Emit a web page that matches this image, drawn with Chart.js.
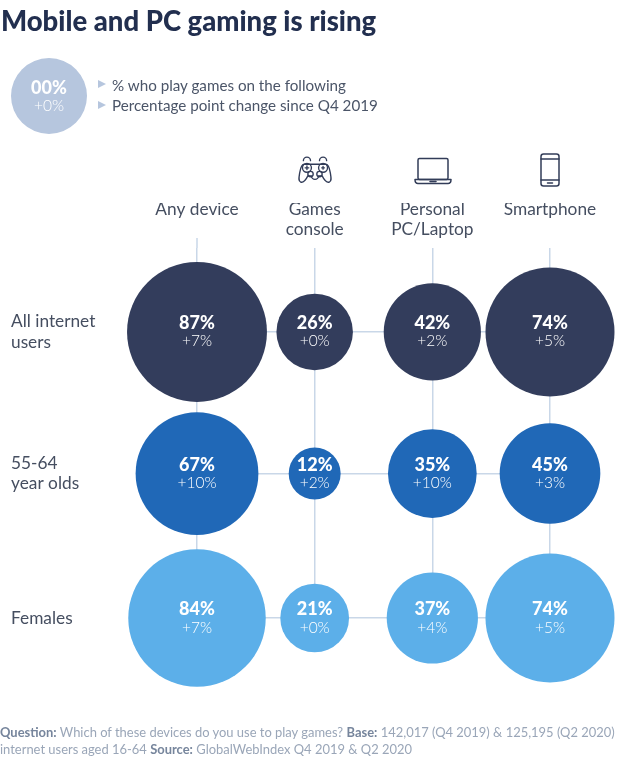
<!DOCTYPE html>
<html>
<head>
<meta charset="utf-8">
<script src="https://cdn.jsdelivr.net/npm/chart.js@4"></script>
<style>
  html, body { margin: 0; padding: 0; background: #fff; }
  body { width: 625px; height: 759px; position: relative; overflow: hidden; font-family: Lato, sans-serif; }
  canvas { position: absolute; left: 0; top: 0; }
  .abs { position: absolute; white-space: nowrap; }
  #title { left: 1px; top: 3px; font-size: 27.5px; line-height: 36px; font-weight: 900; color: #222f4f; }
  #keyDot { left: 11px; top: 58px; width: 76px; height: 76px; border-radius: 50%; background: #b6c6de; }
  .keyText { left: 112px; font-size: 15.2px; line-height: 20px; color: #4b5568; }
  .keyArrow { left: 98px; width: 0; height: 0; border-left: 8px solid #b6c6de; border-top: 4.5px solid transparent; border-bottom: 4.5px solid transparent; }
  .dotLabel { left: 11px; width: 76px; text-align: center; color: #fff; }
  #foot { left: 0; top: 724px; font-size: 12.95px; line-height: 17px; color: #9aa6b8; }
  #foot b { color: #76859c; font-weight: 700; }
  svg { position: absolute; fill: none; stroke: #323c58; stroke-width: 1.5; stroke-linejoin: round; stroke-linecap: round; }
</style>
</head>
<body>
<canvas id="chart" width="625" height="759"></canvas>
<div class="abs" id="title">Mobile and PC gaming is rising</div>
<div class="abs" id="keyDot"></div>
<div class="abs dotLabel" style="top:77px;font-size:18px;line-height:20px;font-weight:900">00%</div>
<div class="abs dotLabel" style="top:95px;font-size:15.5px;line-height:20px;font-weight:300">+0%</div>
<div class="abs keyArrow" style="top:80px"></div>
<div class="abs keyArrow" style="top:101px"></div>
<div class="abs keyText" style="top:74.500px">% who play games on the following</div>
<div class="abs keyText" style="top:95px">Percentage point change since Q4 2019</div>

<!-- device icons -->
<svg style="left:298px;top:156px" width="34" height="29" viewBox="0 0 38 32">
  <path d="M7 9h24c3 0 4 3 5 9s2 10-1 11-6-3-8-7h-4a4 4 0 0 1-8 0h-4c-2 4-5 8-8 7S1 24 2 18 4 9 7 9z"/>
  <circle cx="10" cy="13" r="5"/><circle cx="28" cy="13" r="5"/>
  <circle cx="14" cy="20" r="3"/><circle cx="24" cy="20" r="3"/>
  <path d="M8 13h4M10 11v4M26.500 13h3M28 11.500v3M6 5a4 4 0 0 1 8 0M24 5a4 4 0 0 1 8 0"/>
</svg>
<svg style="left:414px;top:157px" width="38" height="28" viewBox="0 0 38 28">
  <rect x="4" y="1.500" width="30" height="21" rx="1.500"/>
  <path d="M1 22.500h36c0 3-1.500 4-3 4H4c-1.500 0-3-1-3-4zM16 24.500h6"/>
</svg>
<svg style="left:539px;top:153px" width="22" height="34" viewBox="0 0 22 34">
  <rect x="2" y="1" width="18" height="32" rx="2.500"/>
  <path d="M2 6h18M2 27h18M8.500 30h5"/>
</svg>

<div class="abs" id="foot"><b>Question:</b> Which of these devices do you use to play games? <b>Base:</b> 142,017 (Q4 2019) &amp; 125,195 (Q2 2020)<br>internet users aged 16-64 <b>Source:</b> GlobalWebIndex Q4 2019 &amp; Q2 2020</div>

<script>
const devices = [['Any device', ''], ['Games', 'console'], ['Personal', 'PC/Laptop'], ['Smartphone', '']];
const groups = [['All internet', 'users'], ['55-64', 'year olds'], ['Females']];

const allUsers = [87, 26, 42, 74];
const olderUsers = [67, 12, 35, 45];
const females = [84, 21, 37, 74];

const allUsersChange = [7, 0, 2, 5];
const olderUsersChange = [10, 2, 10, 3];
const femalesChange = [7, 0, 4, 5];

// rows are not quite evenly spaced in the original
const rowSlots = [0, 0.99, 2];

// bubble area follows the percentage
const radiusPerRoot = 7.5;
const lineColor = '#c9d7e8';

const makeSeries = (label, values, changes, row, color) => ({
  label,
  backgroundColor: color,
  hoverBackgroundColor: color,
  borderWidth: 0,
  clip: false,
  changes,
  data: values.map((v, i) => ({ x: i, y: rowSlots[row], r: radiusPerRoot * Math.sqrt(v), v }))
});

// the first column's line starts higher because its label is a single line
const firstColumnStub = {
  id: 'firstColumnStub',
  beforeDatasetsDraw(chart) {
    const { ctx, chartArea, scales } = chart;
    const x = scales.x.getPixelForValue(0);
    ctx.save();
    ctx.strokeStyle = lineColor;
    ctx.lineWidth = 1.5;
    ctx.beginPath();
    ctx.moveTo(x, chartArea.top - 10);
    ctx.lineTo(x, chartArea.top);
    ctx.stroke();
    ctx.restore();
  }
};

// percentage and change written in the middle of each bubble
const bubbleText = {
  id: 'bubbleText',
  afterDatasetsDraw(chart) {
    const { ctx } = chart;
    ctx.save();
    ctx.textAlign = 'center';
    ctx.textBaseline = 'middle';
    ctx.fillStyle = '#fff';
    chart.data.datasets.forEach((ds, d) => {
      chart.getDatasetMeta(d).data.forEach((pt, i) => {
        ctx.font = '900 18px Lato';
        ctx.fillText(ds.data[i].v + '%', pt.x, pt.y - 8.5);
        ctx.font = '300 15.5px Lato';
        ctx.fillText('+' + ds.changes[i] + '%', pt.x, pt.y + 9.5);
      });
    });
    ctx.restore();
  }
};

new Chart(document.getElementById('chart'), {
  type: 'bubble',
  data: {
    datasets: [
      makeSeries('All internet users', allUsers, allUsersChange, 0, '#333d5c'),
      makeSeries('55-64 year olds', olderUsers, olderUsersChange, 1, '#2068b7'),
      makeSeries('Females', females, femalesChange, 2, '#5cafe9')
    ]
  },
  options: {
    responsive: false,
    animation: false,
    events: [],
    layout: { padding: { left: 11, right: 75, top: 203, bottom: 141 } },
    plugins: { legend: { display: false }, tooltip: { enabled: false } },
    scales: {
      x: {
        type: 'linear',
        position: 'top',
        min: 0,
        max: 3,
        afterBuildTicks: s => { s.ticks = devices.map((d, i) => ({ value: i })); },
        afterFit: s => { s.height = 45; },
        border: { display: false },
        grid: { color: lineColor, lineWidth: 1.5, drawTicks: false },
        ticks: {
          autoSkip: false,
          maxRotation: 0,
          padding: 8,
          color: '#454e60',
          font: { family: 'Lato', size: 17.3, lineHeight: 1.17 },
          callback: v => devices[v]
        }
      },
      y: {
        type: 'linear',
        reverse: true,
        min: -0.587,
        max: 2,
        afterBuildTicks: s => { s.ticks = rowSlots.map(value => ({ value })); },
        afterFit: s => { s.width = 186; },
        border: { display: false },
        grid: { color: lineColor, lineWidth: 1.5, drawTicks: false },
        ticks: {
          autoSkip: false,
          crossAlign: 'far',
          padding: 0,
          color: '#454e60',
          font: { family: 'Lato', size: 17.3, lineHeight: 1.17 },
          callback: v => groups[rowSlots.indexOf(v)]
        }
      }
    }
  },
  plugins: [firstColumnStub, bubbleText]
});
</script>
</body>
</html>
